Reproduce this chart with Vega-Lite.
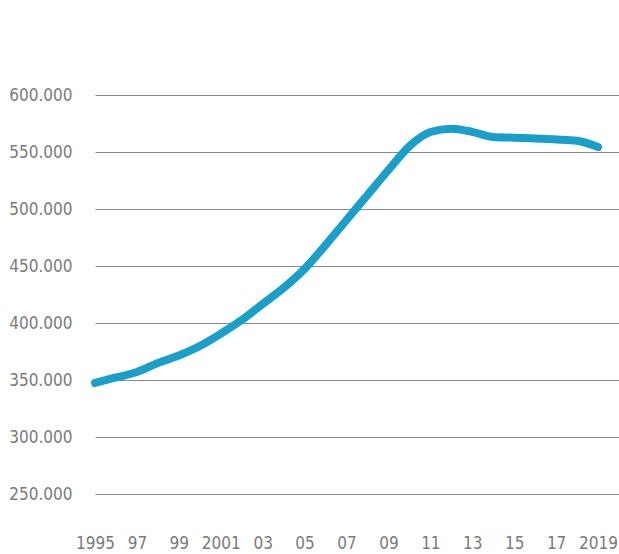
{
  "$schema": "https://vega.github.io/schema/vega-lite/v6.json",
  "autosize": {"type": "none"},
  "width": 524,
  "height": 399,
  "padding": {"left": 95, "top": 95, "right": 0, "bottom": 60},
  "background": "white",
  "config": {
    "view": {"stroke": null},
    "axis": {
      "labelFont": "'DejaVu Sans Condensed', 'Liberation Sans Narrow', Roboto, sans-serif",
      "labelFontSize": 17,
      "labelColor": "#7a7a7a",
      "domain": false,
      "ticks": false
    }
  },
  "data": {
    "values": [
      {"year": 1995, "value": 347400},
      {"year": 1996, "value": 352200},
      {"year": 1997, "value": 357000},
      {"year": 1998, "value": 364900},
      {"year": 1999, "value": 371500},
      {"year": 2000, "value": 379800},
      {"year": 2001, "value": 390600},
      {"year": 2002, "value": 402600},
      {"year": 2003, "value": 416700},
      {"year": 2004, "value": 430800},
      {"year": 2005, "value": 447500},
      {"year": 2006, "value": 468400},
      {"year": 2007, "value": 490400},
      {"year": 2008, "value": 512300},
      {"year": 2009, "value": 534200},
      {"year": 2010, "value": 555100},
      {"year": 2011, "value": 567500},
      {"year": 2012, "value": 570500},
      {"year": 2013, "value": 567700},
      {"year": 2014, "value": 563200},
      {"year": 2015, "value": 562600},
      {"year": 2016, "value": 561800},
      {"year": 2017, "value": 561000},
      {"year": 2018, "value": 559800},
      {"year": 2019, "value": 554400}
    ]
  },
  "mark": {"type": "line", "color": "#199fca", "strokeWidth": 8, "strokeCap": "round", "strokeJoin": "round", "interpolate": "monotone"},
  "encoding": {
    "x": {
      "field": "year",
      "type": "quantitative",
      "scale": {"domain": [1995, 2020], "nice": false, "zero": false},
      "axis": {
        "title": null,
        "grid": false,
        "values": [1995, 1997, 1999, 2001, 2003, 2005, 2007, 2009, 2011, 2013, 2015, 2017, 2019],
        "labelExpr": "(datum.value == 1995 || datum.value == 2001 || datum.value == 2019) ? '' + datum.value : substring('' + datum.value, 2, 4)",
        "labelPadding": 41,
        "labelBaseline": "top",
        "labelFlush": false,
        "labelOverlap": false
      }
    },
    "y": {
      "field": "value",
      "type": "quantitative",
      "scale": {"domain": [250000, 600000], "nice": false, "zero": false},
      "axis": {
        "title": null,
        "values": [250000, 300000, 350000, 400000, 450000, 500000, 550000, 600000],
        "labelExpr": "format(datum.value / 1000, 'd') + '.000'",
        "labelPadding": 23,
        "grid": true,
        "gridColor": "#8a8a8a",
        "gridWidth": 1,
        "gridOpacity": 1
      }
    }
  }
}
